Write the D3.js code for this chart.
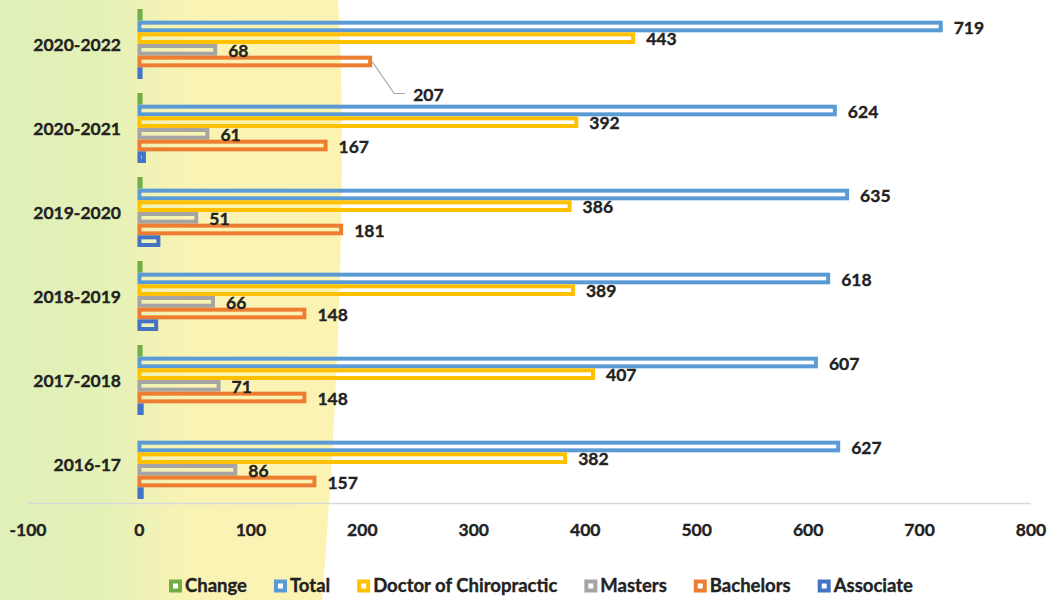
<!DOCTYPE html>
<meta charset="utf-8">
<script src="https://cdn.jsdelivr.net/npm/d3@7"></script>
<style>
body { margin: 0; background: #fff; }
text { font-family: Lato, "Noto Sans", sans-serif; font-weight: bold; fill: #222; stroke: #222; stroke-width: 0.35px; }
</style>
<body>
<script>

// data (top category first)
var categories = ["2020-2022", "2020-2021", "2019-2020", "2018-2019", "2017-2018", "2016-17"];
var seriesNames = ["Change", "Total", "Doctor of Chiropractic", "Masters", "Bachelors", "Associate"];
var change    = [1, 1, 1, 1, 1, 0];
var total     = [719, 624, 635, 618, 607, 627];
var doctor    = [443, 392, 386, 389, 407, 382];
var masters   = [68, 61, 51, 66, 71, 86];
var bachelors = [207, 167, 181, 148, 148, 157];
var associate = [1, 4, 17, 15, 2, 2];
var xTicks = [-100, 0, 100, 200, 300, 400, 500, 600, 700, 800];

var seriesValues = [change, total, doctor, masters, bachelors, associate];
var colors = ["#70ad47", "#5b9bd5", "#ffc000", "#a5a5a5", "#ed7d31", "#4472c4"];
var labelled = [false, true, true, true, true, false];

var width = 1052, height = 600;

var svg = d3.select("body").append("svg")
    .attr("width", width)
    .attr("height", height);

// background wash
var defs = svg.append("defs");
var grad = defs.append("linearGradient").attr("id", "bg")
    .attr("x1", "0").attr("x2", "1").attr("y1", "0").attr("y2", "0");
grad.append("stop").attr("offset", "0%").attr("stop-color", "#dff0b9");
grad.append("stop").attr("offset", "30%").attr("stop-color", "#e4f1b7");
grad.append("stop").attr("offset", "55%").attr("stop-color", "#f9f3b4");
grad.append("stop").attr("offset", "100%").attr("stop-color", "#fcf3b2");

svg.append("path")
    .attr("d", "M0,0 L338,0 C346,130 342,350 322,600 L0,600 Z")
    .attr("fill", "url(#bg)");

var x = d3.scaleLinear().domain([-100, 800]).range([28, 1031]);

var y0 = d3.scaleBand().domain(categories).range([0, 504]);
var y1 = d3.scaleBand().domain(seriesNames).range([9, 79]);

// axis line + tick labels
svg.append("line")
    .attr("x1", x(-100)).attr("x2", x(800))
    .attr("y1", 503.5).attr("y2", 503.5)
    .attr("stroke", "#d9d9d9")
    .attr("stroke-width", 1.5);

svg.append("g").selectAll("text")
    .data(xTicks)
    .enter().append("text")
    .attr("x", function(d) { return x(d); })
    .attr("y", 530)
    .attr("dy", "0.35em")
    .attr("text-anchor", "middle")
    .style("font-size", "17.5px")
    .text(function(d) { return d; });

// category labels
svg.append("g").selectAll("text")
    .data(categories)
    .enter().append("text")
    .attr("x", 121)
    .attr("y", function(d) { return y0(d) + 45; })
    .attr("dy", "0.35em")
    .attr("text-anchor", "end")
    .style("font-size", "17.5px")
    .text(function(d) { return d; });

// bars
var rows = [];
categories.forEach(function(c, i) {
  seriesNames.forEach(function(s, j) {
    rows.push({cat: c, series: s, j: j, value: seriesValues[j][i]});
  });
});

var bh = y1.bandwidth();

svg.append("g").selectAll("rect")
    .data(rows.filter(function(d) { return d.value > 0; }))
    .enter().append("rect")
    .attr("x", x(0))
    .attr("y", function(d) { return y0(d.cat) + y1(d.series) + 2; })
    .attr("width", function(d) { return x(d.value) - x(0); })
    .attr("height", bh - 4)
    .attr("fill", "none")
    .attr("stroke", function(d) { return colors[d.j]; })
    .attr("stroke-width", 4);

// data labels
var lab = rows.filter(function(d) { return labelled[d.j]; });
svg.append("g").selectAll("text")
    .data(lab)
    .enter().append("text")
    .attr("x", function(d) {
      if (d.cat == "2020-2022" && d.series == "Bachelors") return x(d.value) + 43;
      return x(d.value) + 13;
    })
    .attr("y", function(d) {
      var yy = y0(d.cat) + y1(d.series) + bh / 2 + 1;
      if (d.cat == "2020-2022" && d.series == "Bachelors") return yy + 32;
      return yy;
    })
    .attr("dy", "0.35em")
    .style("font-size", "17.5px")
    .text(function(d) { return d.value; });

// leader line for the moved label
var bx = x(bachelors[0]), by = y0(categories[0]) + y1("Bachelors") + bh / 2;
svg.append("path")
    .attr("d", "M" + (bx + 2) + "," + by + "L" + (bx + 24) + "," + (by + 32) + "L" + (bx + 35) + "," + (by + 32))
    .attr("fill", "none")
    .attr("stroke", "#a6a6a6")
    .attr("stroke-width", 1.2);

// legend
var legend = svg.append("g");
var lx = 0;
seriesNames.forEach(function(s, j) {
  var g = legend.append("g").attr("transform", "translate(" + lx + ",0)");
  g.append("rect")
    .attr("x", 2).attr("y", -4.5)
    .attr("width", 9).attr("height", 9)
    .attr("fill", "#fff")
    .attr("stroke", colors[j])
    .attr("stroke-width", 4);
  var t = g.append("text")
    .attr("x", 16).attr("y", 0)
    .attr("dy", "0.35em")
    .style("font-size", "18.5px")
    .text(s);
  lx += 16 + t.node().getComputedTextLength() + 27;
});
lx -= 27;
legend.attr("transform", "translate(" + (541 - lx / 2) + ",586)");

</script>
</body>
</html>
